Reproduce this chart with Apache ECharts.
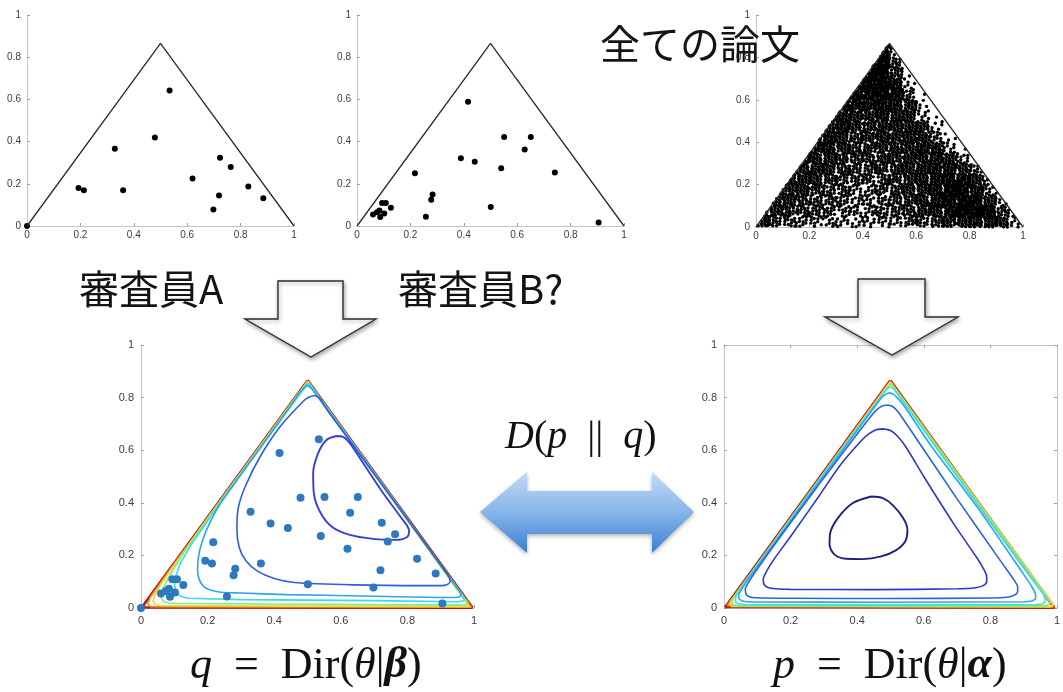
<!DOCTYPE html>
<html>
<head>
<meta charset="utf-8">
<title>Dirichlet</title>
<script src="https://cdn.jsdelivr.net/npm/echarts@6.0.0/dist/echarts.min.js"></script>
<style>
  html, body { margin: 0; padding: 0; background: #ffffff; }
  #chart { width: 1063px; height: 692px; }
</style>
</head>
<body>
<div id="chart"></div>
<script>
// ---- data -----------------------------------------------------------------

// corners of the 2-simplex drawn as a triangle (left, apex, right)
const simplexEdges = [[0, 0], [0.5, 0.866], [1, 0]];

// topic proportions of the papers rated by reviewer A
const reviewerA = [
  [0, 0], [0.193, 0.180], [0.213, 0.169], [0.329, 0.366], [0.360, 0.169],
  [0.479, 0.419], [0.534, 0.642], [0.620, 0.225], [0.723, 0.324], [0.763, 0.280],
  [0.719, 0.144], [0.698, 0.078], [0.829, 0.187], [0.885, 0.131]
];

// topic proportions of the papers rated by reviewer B
const reviewerB = [
  [0.416, 0.589], [0.551, 0.422], [0.651, 0.422], [0.628, 0.362], [0.389, 0.321],
  [0.441, 0.304], [0.540, 0.274], [0.741, 0.253], [0.217, 0.250], [0.283, 0.149],
  [0.278, 0.125], [0.258, 0.044], [0.501, 0.090], [0.905, 0.017], [0.060, 0.055],
  [0.075, 0.065], [0.094, 0.109], [0.108, 0.109], [0.127, 0.087], [0.087, 0.043],
  [0.102, 0.059], [0.084, 0.073]
];

// all papers: number of papers per 0.05 x 0.05 cell (row 0 = bottom, column 0 = left)
const paperDensity = [
  [22, 14, 13, 11, 10, 10, 8, 8, 8, 10, 11, 13, 14, 17, 20, 22, 25, 25, 20, 8],
  [21, 20, 18, 15, 14, 13, 11, 10, 11, 13, 14, 17, 20, 24, 28, 33, 35, 31, 17, 4],
  [0, 21, 20, 17, 15, 14, 13, 10, 10, 13, 15, 18, 21, 25, 31, 33, 33, 22, 7, 0],
  [0, 22, 20, 20, 17, 15, 14, 11, 11, 14, 17, 20, 22, 27, 31, 31, 25, 11, 3, 0],
  [0, 0, 22, 21, 20, 17, 15, 14, 13, 15, 17, 20, 22, 25, 28, 28, 22, 11, 0, 0],
  [0, 0, 25, 22, 22, 20, 17, 15, 17, 17, 18, 21, 24, 25, 25, 20, 11, 3, 0, 0],
  [0, 0, 0, 25, 22, 22, 18, 17, 17, 18, 20, 21, 22, 25, 21, 11, 3, 0, 0, 0],
  [0, 0, 0, 0, 25, 25, 20, 17, 18, 20, 20, 21, 24, 22, 10, 1, 0, 0, 0, 0],
  [0, 0, 0, 0, 25, 25, 22, 18, 20, 21, 20, 22, 22, 12, 3, 0, 0, 0, 0, 0],
  [0, 0, 0, 0, 0, 25, 25, 20, 20, 22, 21, 21, 20, 6, 0, 0, 0, 0, 0, 0],
  [0, 0, 0, 0, 0, 28, 25, 22, 22, 25, 22, 21, 8, 1, 0, 0, 0, 0, 0, 0],
  [0, 0, 0, 0, 0, 0, 28, 28, 25, 28, 25, 21, 5, 0, 0, 0, 0, 0, 0, 0],
  [0, 0, 0, 0, 0, 0, 28, 31, 31, 31, 28, 12, 1, 0, 0, 0, 0, 0, 0, 0],
  [0, 0, 0, 0, 0, 0, 0, 31, 34, 34, 28, 6, 0, 0, 0, 0, 0, 0, 0, 0],
  [0, 0, 0, 0, 0, 0, 0, 0, 34, 34, 18, 2, 0, 0, 0, 0, 0, 0, 0, 0],
  [0, 0, 0, 0, 0, 0, 0, 0, 31, 34, 14, 0, 0, 0, 0, 0, 0, 0, 0, 0],
  [0, 0, 0, 0, 0, 0, 0, 0, 0, 31, 8, 0, 0, 0, 0, 0, 0, 0, 0, 0],
  [0, 0, 0, 0, 0, 0, 0, 0, 0, 28, 6, 0, 0, 0, 0, 0, 0, 0, 0, 0]
];
const densityCell = 0.05;

// iso-density lines of q = Dir(theta | beta), innermost first
const betaContours = [
  [[0.587,0.654],[0.557,0.639],[0.532,0.589],[0.517,0.513],[0.519,0.437],[0.537,0.367],[0.572,0.310],[0.627,0.278],[0.697,0.263],[0.767,0.259],[0.799,0.270],[0.805,0.294],[0.782,0.342],[0.727,0.437],[0.667,0.551],[0.627,0.627],[0.605,0.652],[0.587,0.654]],
  [[0.520,0.808],[0.505,0.802],[0.488,0.787],[0.418,0.690],[0.358,0.576],[0.313,0.462],[0.292,0.380],[0.288,0.300],[0.295,0.230],[0.315,0.180],[0.350,0.140],[0.400,0.112],[0.460,0.097],[0.637,0.088],[0.837,0.085],[0.900,0.085],[0.918,0.088],[0.928,0.100],[0.926,0.115],[0.915,0.138],[0.700,0.510],[0.560,0.752],[0.545,0.782],[0.535,0.800],[0.520,0.808]],
  [[0.500,0.846],[0.490,0.838],[0.478,0.820],[0.440,0.752],[0.330,0.560],[0.240,0.400],[0.205,0.320],[0.183,0.250],[0.172,0.190],[0.170,0.140],[0.176,0.105],[0.188,0.082],[0.208,0.068],[0.240,0.060],[0.300,0.057],[0.438,0.051],[0.737,0.044],[0.930,0.040],[0.950,0.041],[0.960,0.047],[0.960,0.058],[0.950,0.075],[0.750,0.423],[0.525,0.813],[0.512,0.834],[0.500,0.846]],
  [[0.500,0.853],[0.400,0.681],[0.250,0.422],[0.150,0.240],[0.118,0.170],[0.104,0.120],[0.101,0.085],[0.106,0.060],[0.118,0.045],[0.140,0.037],[0.300,0.032],[0.700,0.028],[0.950,0.024],[0.966,0.026],[0.972,0.034],[0.760,0.410],[0.508,0.847],[0.500,0.853]],
  [[0.500,0.858],[0.300,0.513],[0.130,0.215],[0.080,0.110],[0.062,0.065],[0.060,0.040],[0.068,0.025],[0.085,0.019],[0.110,0.017],[0.500,0.014],[0.950,0.011],[0.975,0.012],[0.982,0.020],[0.505,0.854],[0.500,0.858]],
  [[0.500,0.861],[0.200,0.340],[0.065,0.100],[0.042,0.050],[0.036,0.025],[0.042,0.013],[0.060,0.009],[0.500,0.007],[0.985,0.006],[0.990,0.010],[0.503,0.858],[0.500,0.861]],
  [[0.500,0.863],[0.100,0.168],[0.028,0.040],[0.020,0.015],[0.030,0.005],[0.500,0.004],[0.992,0.003],[0.502,0.861],[0.500,0.863]],
  [[0.500,0.865],[0.007,0.010],[0.012,0.002],[0.995,0.0015],[0.502,0.863],[0.500,0.865]]
];
const betaColors = ['#3a3ed2', '#2a5fe6', '#2aa6f0', '#38dce6', '#7aee84', '#e2e03c', '#f29a24', '#b81c10'];
const betaSmooth = [0.3, 0.25, 0.25, 0, 0, 0, 0, 0];

// iso-density lines of p = Dir(theta | alpha), innermost first
const alphaContours = [
  [[0.442,0.424],[0.387,0.399],[0.342,0.342],[0.319,0.285],[0.317,0.241],[0.332,0.203],[0.367,0.187],[0.417,0.186],[0.472,0.196],[0.516,0.219],[0.544,0.253],[0.551,0.297],[0.538,0.342],[0.506,0.392],[0.477,0.418],[0.442,0.424]],
  [[0.477,0.681],[0.455,0.677],[0.435,0.662],[0.415,0.640],[0.350,0.545],[0.285,0.425],[0.200,0.272],[0.150,0.185],[0.128,0.140],[0.118,0.110],[0.120,0.090],[0.132,0.078],[0.155,0.073],[0.200,0.071],[0.450,0.070],[0.700,0.073],[0.755,0.077],[0.778,0.085],[0.789,0.100],[0.789,0.120],[0.780,0.148],[0.760,0.190],[0.690,0.320],[0.600,0.500],[0.545,0.615],[0.520,0.655],[0.500,0.675],[0.477,0.681]],
  [[0.492,0.772],[0.475,0.768],[0.460,0.755],[0.440,0.727],[0.330,0.545],[0.250,0.410],[0.150,0.238],[0.100,0.148],[0.075,0.100],[0.064,0.072],[0.066,0.054],[0.076,0.043],[0.095,0.039],[0.200,0.037],[0.500,0.036],[0.800,0.038],[0.850,0.041],[0.872,0.049],[0.882,0.062],[0.882,0.080],[0.872,0.105],[0.830,0.180],[0.700,0.415],[0.580,0.640],[0.540,0.715],[0.520,0.750],[0.505,0.767],[0.492,0.772]],
  [[0.497,0.818],[0.485,0.812],[0.470,0.795],[0.310,0.520],[0.180,0.295],[0.090,0.140],[0.060,0.085],[0.046,0.055],[0.044,0.040],[0.050,0.030],[0.062,0.025],[0.100,0.023],[0.500,0.022],[0.900,0.024],[0.925,0.027],[0.936,0.036],[0.936,0.050],[0.925,0.080],[0.900,0.128],[0.760,0.385],[0.620,0.620],[0.540,0.770],[0.520,0.800],[0.508,0.813],[0.497,0.818]],
  [[0.499,0.842],[0.487,0.830],[0.295,0.503],[0.147,0.245],[0.058,0.090],[0.036,0.045],[0.034,0.024],[0.042,0.016],[0.060,0.013],[0.500,0.012],[0.940,0.013],[0.958,0.016],[0.966,0.028],[0.960,0.050],[0.900,0.152],[0.700,0.500],[0.512,0.830],[0.499,0.842]],
  [[0.499,0.852],[0.197,0.335],[0.045,0.068],[0.024,0.030],[0.024,0.014],[0.036,0.008],[0.500,0.007],[0.965,0.008],[0.978,0.014],[0.978,0.026],[0.800,0.336],[0.505,0.847],[0.499,0.852]],
  [[0.499,0.858],[0.100,0.165],[0.018,0.022],[0.022,0.006],[0.500,0.005],[0.980,0.005],[0.988,0.012],[0.900,0.165],[0.502,0.855],[0.499,0.858]],
  [[0.499,0.862],[0.010,0.010],[0.015,0.003],[0.985,0.003],[0.992,0.008],[0.501,0.860],[0.499,0.862]],
  [[0.499,0.865],[0.004,0.004],[0.008,0.001],[0.992,0.001],[0.996,0.004],[0.500,0.865]]
];
const alphaColors = ['#1c2184', '#2c38c8', '#2c62e0', '#28a8f0', '#40dce8', '#7af07a', '#e6e03a', '#f0921f', '#b81c10'];
const alphaSmooth = [0.3, 0.25, 0.25, 0.2, 0, 0, 0, 0, 0];

// ---- helpers --------------------------------------------------------------

const SQRT3 = Math.sqrt(3);

// spread each cell's paper count evenly over the cell (golden-ratio offsets),
// keeping only the points that fall inside the triangle
function paperCloud() {
  const pts = [];
  paperDensity.forEach((row, r) => {
    row.forEach((n, c) => {
      const s = ((r * 20 + c) * 0.6180339887 + 0.13) % 1;
      const t = ((r * 20 + c) * 0.4142135624 + 0.57) % 1;
      for (let i = 1; i <= n; i++) {
        const u = (s + i * 0.7548776662) % 1;
        const v = (t + i * 0.5698402910) % 1;
        const x = (c + u) * densityCell;
        const y = (r + v) * densityCell;
        if (y <= SQRT3 * x && y <= SQRT3 * (1 - x)) pts.push([x, y]);
      }
    });
  });
  return pts;
}

const labelFont = '"Liberation Sans", Arial, Helvetica, sans-serif';

function axis(gridIndex, fontSize, margin, extra) {
  return Object.assign({
    type: 'value', gridIndex: gridIndex, min: 0, max: 1, interval: 0.2,
    axisLine: { show: true, onZero: false, lineStyle: { color: '#c4c4c4', width: 1 } },
    axisTick: { show: true, inside: true, length: 3, lineStyle: { color: '#a0a0a0' } },
    axisLabel: { fontSize: fontSize, color: '#3c3c3c', fontFamily: labelFont, margin: margin },
    splitLine: { show: false }
  }, extra || {});
}

const grids = [
  { left: 27, top: 15, width: 267, height: 211 },
  { left: 357, top: 15, width: 267, height: 211 },
  { left: 756, top: 15, width: 267, height: 212 },
  { left: 141, top: 345, width: 333, height: 263 },
  { left: 724, top: 345, width: 334, height: 263 }
];

const xAxes = [
  axis(0, 10, 4), axis(1, 10, 4), axis(2, 10, 4), axis(3, 11, 7), axis(4, 11, 7),
  axis(4, 11, 7, { position: 'top', axisLabel: { show: false } })
];
const yAxes = [
  axis(0, 10, 6), axis(1, 10, 6), axis(2, 10, 6), axis(3, 11, 7), axis(4, 11, 7),
  axis(4, 11, 7, { position: 'right', axisLabel: { show: false } })
];

function edgeSeries(idx) {
  return {
    type: 'line', xAxisIndex: idx, yAxisIndex: idx, data: simplexEdges,
    symbol: 'none', silent: true, z: 4,
    lineStyle: { color: '#2a2a2a', width: 1.3 }
  };
}

function dotSeries(idx, data, size, color) {
  return {
    type: 'scatter', xAxisIndex: idx, yAxisIndex: idx, data: data,
    symbolSize: size, silent: true, z: 3,
    itemStyle: { color: color, opacity: 1 }
  };
}

// outer (high density) lines first so the inner ones sit on top
function contourSeries(idx, loops, colors, smooth) {
  const out = [];
  for (let i = loops.length - 1; i >= 0; i--) {
    const outermost = i === loops.length - 1;
    out.push({
      type: 'line', xAxisIndex: idx, yAxisIndex: idx, data: loops[i],
      symbol: 'none', smooth: smooth[i] || false, silent: true, clip: false, z: 2,
      lineStyle: { color: colors[i], width: outermost ? 2.6 : (i === 0 ? 1.9 : 1.6) }
    });
  }
  return out;
}

const series = [
  edgeSeries(0), dotSeries(0, reviewerA, 6, '#000000'),
  edgeSeries(1), dotSeries(1, reviewerB, 6, '#000000'),
  dotSeries(2, paperCloud(), 3.4, '#000000'), edgeSeries(2)
]
  .concat(contourSeries(3, betaContours, betaColors, betaSmooth))
  .concat([dotSeries(3, reviewerA.concat(reviewerB), 8, '#2e78bf')])
  .concat(contourSeries(4, alphaContours, alphaColors, alphaSmooth));

// ---- annotations ----------------------------------------------------------

const jpFont = '"Noto Sans CJK JP", "Noto Sans", sans-serif';
const mathFont = '"Liberation Serif", "DejaVu Serif", serif';
const arrowStyle = {
  fill: '#ffffff', stroke: '#2e2e2e', lineWidth: 1.4,
  shadowBlur: 4, shadowColor: 'rgba(0,0,0,0.35)', shadowOffsetX: 1, shadowOffsetY: 2
};

function mathRich(size) {
  return {
    it: { fontStyle: 'italic', fontSize: size, fontFamily: mathFont, fill: '#111' },
    bi: { fontStyle: 'italic', fontWeight: 'bold', fontSize: size, fontFamily: mathFont, fill: '#111' },
    up: { fontSize: size, fontFamily: mathFont, fill: '#111' }
  };
}

const graphic = [
  { type: 'text', x: 600, y: 44, z: 100,
    style: { text: '全ての論文', fontSize: 40, fontFamily: jpFont, fill: '#141414', verticalAlign: 'middle' } },
  { type: 'text', x: 79, y: 289, z: 100,
    style: { text: '審査員A', fontSize: 40, fontFamily: jpFont, fill: '#141414', verticalAlign: 'middle' } },
  { type: 'text', x: 398, y: 289, z: 100,
    style: { text: '審査員B?', fontSize: 40, fontFamily: jpFont, fill: '#141414', verticalAlign: 'middle' } },
  { type: 'polygon', z: 100,
    shape: { points: [[278, 281], [343, 281], [343, 319], [376, 319], [311, 357], [245, 319], [278, 319]] },
    style: arrowStyle },
  { type: 'polygon', z: 100,
    shape: { points: [[858, 279], [925, 279], [925, 317], [958, 317], [892, 355], [825, 317], [858, 317]] },
    style: arrowStyle },
  { type: 'polygon', z: 100,
    shape: { points: [[480, 512], [527, 472], [527, 491], [652, 491], [652, 472], [694, 512], [652, 553], [652, 534], [527, 534], [527, 553]] },
    style: {
      fill: new echarts.graphic.LinearGradient(0, 0, 0, 1, [
        { offset: 0, color: '#c4dbf6' }, { offset: 0.5, color: '#86b4ea' }, { offset: 1, color: '#3a80d2' }
      ]),
      shadowBlur: 4, shadowColor: 'rgba(0,0,0,0.3)', shadowOffsetY: 2
    } },
  { type: 'text', x: 505, y: 437, z: 100,
    style: { text: '{it|D}{up|(}{it|p}\u2002{up|||}\u2002{it|q}{up|)}', fontSize: 40, fontFamily: mathFont,
             fill: '#111', verticalAlign: 'middle', rich: mathRich(40) } },
  { type: 'text', x: 190, y: 666, z: 100,
    style: { text: '{it|q}\u2002{up|=}\u2002{up|Dir(}{it|θ}{up||}{bi|β}{up|)}', fontSize: 44, fontFamily: mathFont,
             fill: '#111', verticalAlign: 'middle', rich: mathRich(44) } },
  { type: 'text', x: 773, y: 666, z: 100,
    style: { text: '{it|p}\u2002{up|=}\u2002{up|Dir(}{it|θ}{up||}{bi|α}{up|)}', fontSize: 44, fontFamily: mathFont,
             fill: '#111', verticalAlign: 'middle', rich: mathRich(44) } }
];

const chart = echarts.init(document.getElementById('chart'), null, { renderer: 'canvas' });
chart.setOption({
  backgroundColor: '#ffffff',
  animation: false,
  grid: grids,
  xAxis: xAxes,
  yAxis: yAxes,
  series: series,
  graphic: graphic
});
</script>
</body>
</html>
